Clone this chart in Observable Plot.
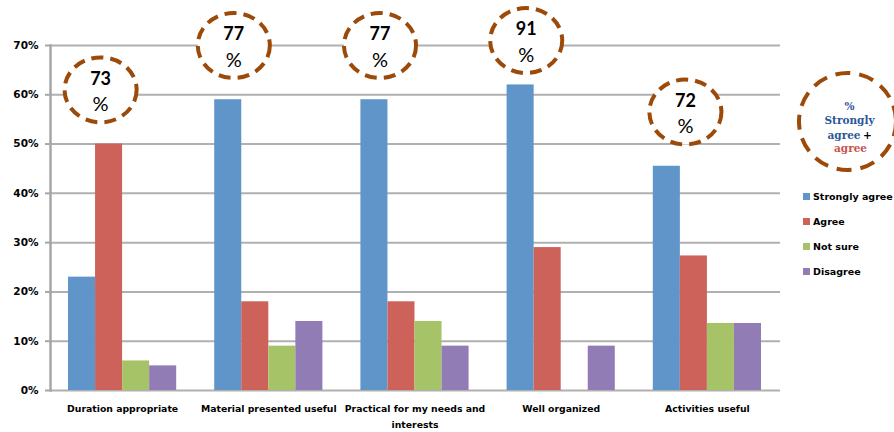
<!DOCTYPE html>
<html>
<head>
<meta charset="utf-8">
<script src="https://cdn.jsdelivr.net/npm/d3@7"></script>
<script src="https://cdn.jsdelivr.net/npm/@observablehq/plot@0.6"></script>
<style>
  body { margin: 0; background: #fff; }
  #wrap { position: relative; width: 894px; height: 432px; overflow: hidden; background: #fff; }
  #legend { position: absolute; left: 803px; top: 184px; font: bold 9.5px "DejaVu Sans", sans-serif; color: #000; }
  .item { display: flex; align-items: center; height: 25px; white-space: nowrap; }
  .sw { width: 7px; height: 7px; margin-right: 3px; }
</style>
</head>
<body>
<div id="wrap"><div id="chart"></div><div id="legend"></div></div>
<script>
const categories = ["Duration appropriate", "Material presented useful", "Practical for my needs and interests", "Well organized", "Activities useful"];
const series = ["Strongly agree", "Agree", "Not sure", "Disagree"];
const stronglyAgree = [23, 59, 59, 62, 45.5];
const agree = [50, 18, 18, 29, 27.3];
const notSure = [6, 9, 14, 0, 13.6];
const disagree = [5, 14, 9, 9, 13.6];
const combinedAgree = [73, 77, 77, 91, 72];
const yTicks = [0, 10, 20, 30, 40, 50, 60, 70];
const colors = ["#5f95c9", "#cd625b", "#a6c467", "#927cb6"];

const seriesValues = [stronglyAgree, agree, notSure, disagree];
const rows = [];
series.forEach((s, si) => categories.forEach((c, ci) => rows.push({category: c, series: s, value: seriesValues[si][ci]})));

const annots = categories.map((c, i) => ({
  category: c, idx: i, value: combinedAgree[i],
  y: Math.min(Math.max(...seriesValues.map(v => v[i])) + 11, 71)
}));

const W = 894, ML = 49, MR = 114, PI = 0.26, PO = 0.13;
const step = (W - ML - MR) / (categories.length - PI + 2 * PO);
const q = step * (1 - PI) / 4;

const ellipse = {
  draw(ctx, size) {
    const r = Math.sqrt(size / Math.PI), rx = r * 1.06, ry = r * 0.955, k = 0.5523;
    ctx.moveTo(rx, 0);
    ctx.bezierCurveTo(rx, ry * k, rx * k, ry, 0, ry);
    ctx.bezierCurveTo(-rx * k, ry, -rx, ry * k, -rx, 0);
    ctx.bezierCurveTo(-rx, -ry * k, -rx * k, -ry, 0, -ry);
    ctx.bezierCurveTo(rx * k, -ry, rx, -ry * k, rx, 0);
    ctx.closePath();
  }
};

const brown = "#9c4a0a";
const circleStyle = {r: 34, symbol: ellipse, fill: "white", stroke: brown, strokeWidth: 4, strokeDasharray: "12,7"};
const groupA = annots.filter(d => d.idx === 0 || d.idx === 4);
const groupB = annots.filter(d => d.idx >= 1 && d.idx <= 3);

function annotMarks(data, dx) {
  return [
    Plot.dot(data, {x: "category", y: "y", dx, ...circleStyle}),
    Plot.text(data, {x: "category", y: "y", dx, dy: -11, text: d => String(d.value), fontFamily: "Lato", fontWeight: "bold", fontSize: 18, fill: "#000"}),
    Plot.text(data, {x: "category", y: "y", dx, dy: 15, text: () => "%", fontFamily: "Lato", fontSize: 20, fill: "#000"})
  ];
}

const keyText = (t, opts) => Plot.text([t], {x: null, y: null, frameAnchor: "top-right", textAnchor: "middle", text: d => d, fontFamily: "DejaVu Serif", fontWeight: "bold", fontSize: 10.5, ...opts});

const chart = Plot.plot({
  width: W, height: 432,
  marginLeft: ML, marginRight: MR, marginTop: 45, marginBottom: 42,
  style: {fontFamily: "DejaVu Sans", background: "white", overflow: "visible"},
  x: {domain: categories, paddingInner: PI, paddingOuter: PO, round: false},
  y: {domain: [0, 70]},
  marks: [
    Plot.gridY(yTicks, {stroke: "#b0b0b0", strokeOpacity: 1, strokeWidth: 2}),
    ...series.map((s, si) => Plot.barY(rows.filter(r => r.series === s), {
      x: "category", y: "value", fill: colors[si],
      insetLeft: si * q, insetRight: (3 - si) * q
    })),
    Plot.frame({anchor: "left", stroke: "#a6a6a6", strokeWidth: 2.5, dx: 1}),
    Plot.axisY(yTicks, {tickFormat: d => d + "%", tickSize: 4, tickPadding: 7, fontSize: 10.5, fontWeight: "bold", stroke: "#a6a6a6", strokeWidth: 2, label: null}),
    Plot.axisX({tickSize: 0, tickPadding: 11, fontSize: 9.3, fontWeight: "bold", lineHeight: 1.65, label: null,
      tickFormat: d => d.replace(" and interests", " and\ninterests")}),
    ...annotMarks(groupA, -22),
    ...annotMarks(groupB, -35),
    Plot.dot([0], {x: null, y: null, frameAnchor: "top-right", dx: 67, dy: 76, r: 48.5, fill: "white", stroke: brown, strokeWidth: 4, strokeDasharray: "15,9"}),
    keyText("%", {dx: 69, dy: 57, fill: "#2b5797"}),
    keyText("Strongly", {dx: 69, dy: 71, fill: "#2b5797"}),
    keyText("agree", {dx: 47, dy: 86, fill: "#2b5797", textAnchor: "start"}),
    keyText("+", {dx: 87, dy: 86, fill: "#000"}),
    keyText("agree", {dx: 70, dy: 99, fill: "#c9524c"})
  ]
});
document.getElementById("chart").appendChild(chart);

const legend = document.getElementById("legend");
series.forEach((s, i) => {
  const item = document.createElement("div");
  item.className = "item";
  const sw = document.createElement("span");
  sw.className = "sw";
  sw.style.background = colors[i];
  item.appendChild(sw);
  item.appendChild(document.createTextNode(s));
  legend.appendChild(item);
});
</script>
</body>
</html>
